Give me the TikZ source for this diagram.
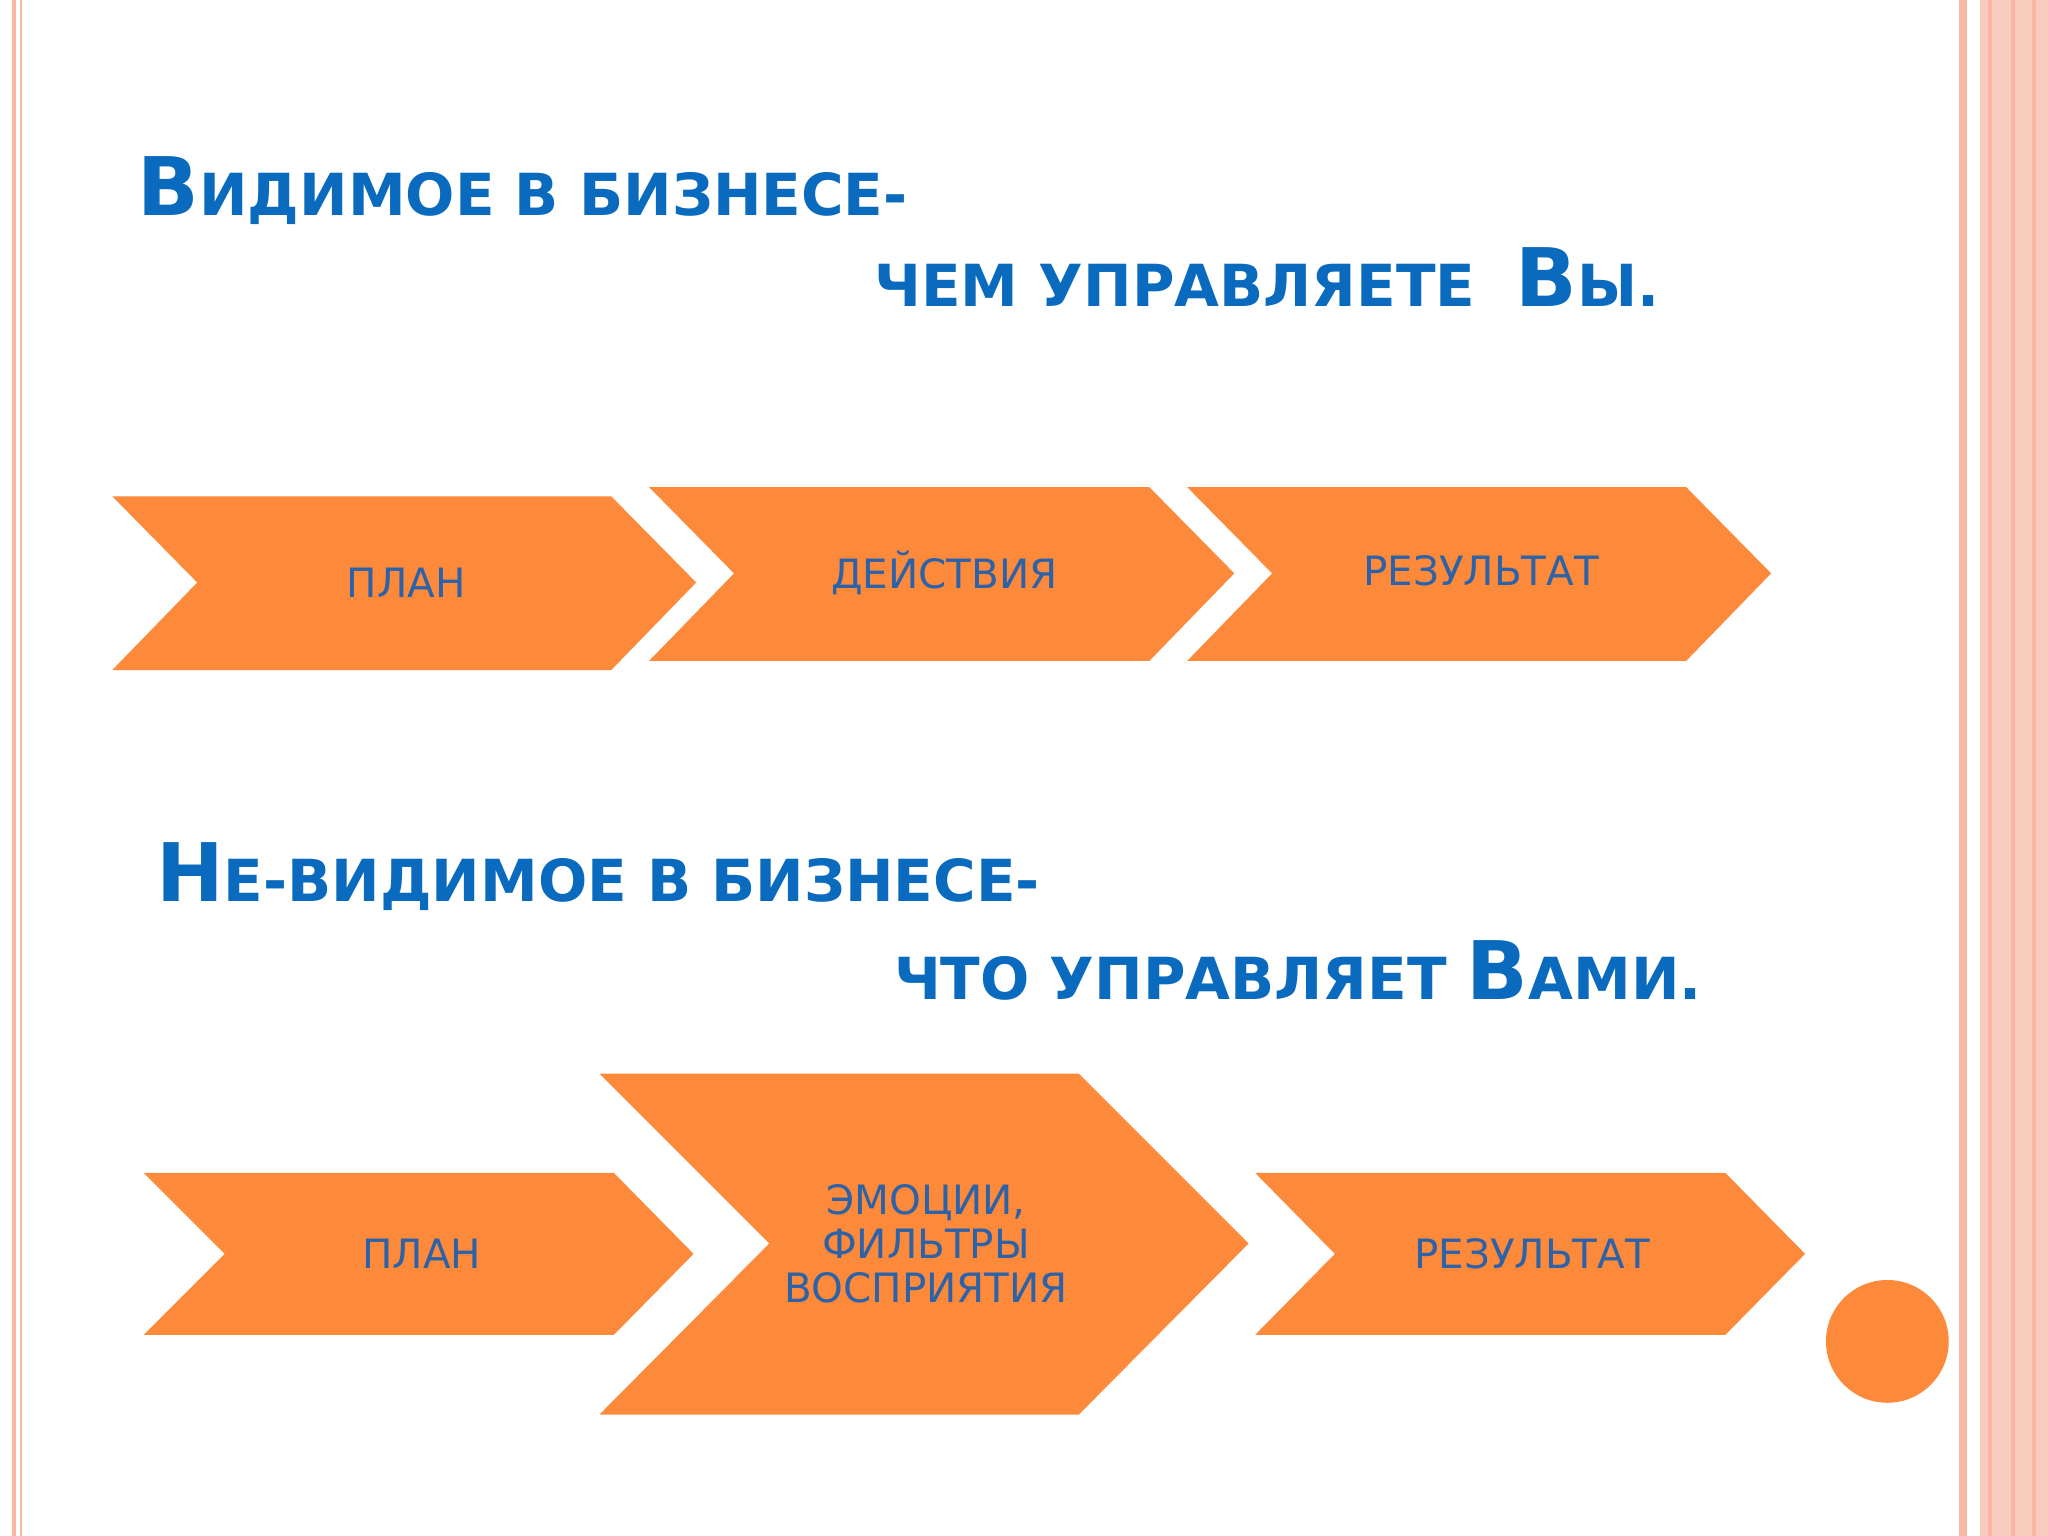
\documentclass[tikz,border=0pt]{standalone}
\usepackage{fontspec}
\setmainfont{DejaVu Sans}
\definecolor{org}{HTML}{FD893B}
\definecolor{tblue}{HTML}{0A6BBE}
\definecolor{cblue}{HTML}{2C62A8}
\definecolor{pinkl}{HTML}{F7B7A3}
\newcommand{\BigC}[1]{{\fontsize{23}{23}\selectfont #1}}
\newcommand{\SmC}[1]{{\fontsize{16.5}{16.5}\selectfont #1}}
\begin{document}
\begin{tikzpicture}[x=0.01306cm,y=-0.01306cm,
  chev/.style={fill=org,draw=none},
  ctext/.style={text=cblue,font=\fontsize{11.5}{13}\selectfont,align=center},
  ttl/.style={anchor=base west,text=tblue,font=\bfseries}]
\fill[white] (0,0) rectangle (1568,1176);
\useasboundingbox (0,0) rectangle (1568,1176);
% borders
\fill[pinkl] (9,0) rectangle (12,1176);
\fill[pinkl] (15,0) rectangle (17,1176);
\fill[pinkl] (1500,0) rectangle (1506,1176);
\fill[pinkl!70] (1516,0) rectangle (1568,1176);
\fill[pinkl] (1522,0) rectangle (1525,1176);
\fill[pinkl] (1540,0) rectangle (1543,1176);
\fill[pinkl] (1556,0) rectangle (1559,1176);
% titles
\node[ttl] (t1) at (96,165) {\BigC{В}\SmC{ИДИМОЕ В БИЗНЕСЕ-}};
\node[ttl] (t2) at (660,235) {\SmC{ЧЕМ УПРАВЛЯЕТЕ \ }\BigC{В}\SmC{Ы.}};
\node[ttl] (t3) at (110,690) {\BigC{Н}\SmC{Е-ВИДИМОЕ В БИЗНЕСЕ-}};
\node[ttl] (t4) at (675,765) {\SmC{ЧТО УПРАВЛЯЕТ }\BigC{В}\SmC{АМИ.}};
% row 1
\fill[chev] (86,380)--(468,380)--(533,446)--(468,513)--(86,513)--(151,446)--cycle;
\fill[chev] (497,373)--(880,373)--(945,439)--(880,506)--(497,506)--(562,439)--cycle;
\fill[chev] (909,373)--(1291,373)--(1356,439)--(1291,506)--(909,506)--(974,439)--cycle;
\node[ctext] (a1) at (311,446) {ПЛАН};
\node[ctext] (a2) at (723,439) {ДЕЙСТВИЯ};
\node[ctext] (a3) at (1134,437) {РЕЗУЛЬТАТ};
% row 2
\fill[chev] (110,898)--(470,898)--(531,960)--(470,1022)--(110,1022)--(172,960)--cycle;
\fill[chev] (459,822)--(826,822)--(956,952)--(826,1083)--(459,1083)--(589,952)--cycle;
\fill[chev] (961,898)--(1321,898)--(1382,960)--(1321,1022)--(961,1022)--(1022,960)--cycle;
\node[ctext] (b1) at (323,960) {ПЛАН};
\node[ctext,font=\fontsize{11.5}{12.5}\selectfont] (b2) at (709,952) {ЭМОЦИИ,\\ФИЛЬТРЫ\\ВОСПРИЯТИЯ};
\node[ctext] (b3) at (1173,960) {РЕЗУЛЬТАТ};
\fill[org] (1445,1027) circle (47);
\end{tikzpicture}
\end{document}
